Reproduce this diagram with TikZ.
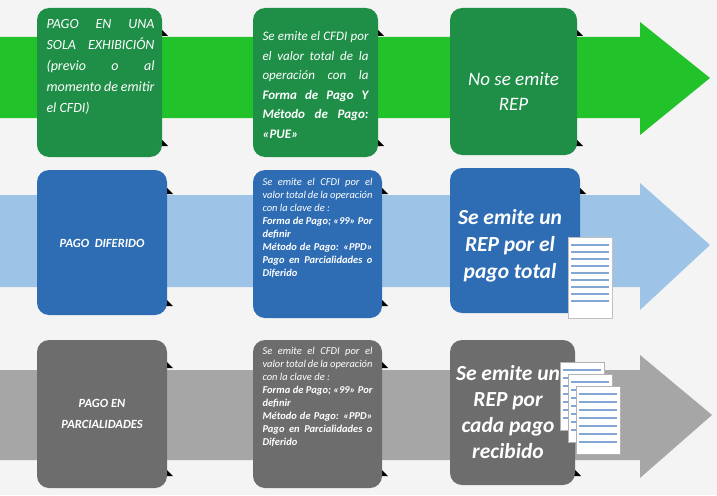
\documentclass[tikz,border=0pt]{standalone}
\usepackage{fontspec}
\setmainfont{Carlito}
\usetikzlibrary{positioning}
\definecolor{bgc}{HTML}{F4F4F4}
\definecolor{gband}{HTML}{22C32A}
\definecolor{gbox}{HTML}{1F8F48}
\definecolor{bband}{HTML}{9DC3E6}
\definecolor{bbox}{HTML}{2E6DB4}
\definecolor{kband}{HTML}{A6A6A6}
\definecolor{kbox}{HTML}{6D6D6D}
\tikzset{
 jt/.style={text=white,align=justify,anchor=north,execute at begin node={\hyphenpenalty=10000\exhyphenpenalty=10000\emergencystretch=3em}},
}
\begin{document}
\begin{tikzpicture}[x=1pt,y=-1pt]
\fill[bgc] (0,0) rectangle (717,495);
% bands
\fill[gband] (0,37) -- (640,37) -- (640,22) -- (710,78) -- (640,135) -- (640,118) -- (0,118) -- cycle;
\fill[bband] (0,195) -- (640,195) -- (640,183) -- (710,245) -- (640,310) -- (640,287) -- (0,287) -- cycle;
\fill[kband] (0,370) -- (640,370) -- (640,355) -- (712,415) -- (640,478) -- (640,460) -- (0,460) -- cycle;
% shadows
\foreach \x/\y in {162/140,378/140,577/140,167/300,382/300,580/300,167/470,382/470,575/470,162/30,378/30,577/30,167/188,382/188,580/188,167/362,382/362,575/362}{
 \fill[black] (\x-8,\y-8) -- (\x+6,\y+6) -- (\x-8,\y+6) -- cycle;}
% row 1
\fill[gbox,rounded corners=12pt] (37,8) rectangle (162,157);
\fill[gbox,rounded corners=12pt] (253,8) rectangle (378,157);
\fill[gbox,rounded corners=12pt] (450,8) rectangle (577,155);
\node[jt,font=\itshape\fontsize{14}{21}\selectfont,text width=108pt,anchor=north west] (a1) at (43,16) {PAGO EN UNA SOLA EXHIBICIÓN (previo o al momento de emitir el CFDI)};
\node[jt,font=\itshape\fontsize{13}{19.5}\selectfont,text width=106pt] (a2) at (315.5,28) {Se emite el CFDI por el valor total de la operación con la \textbf{Forma de Pago Y Método de Pago: «PUE»}};
\node[text=white,font=\itshape\fontsize{19}{25}\selectfont,align=center] (a3) at (513.5,91) {No se emite\\REP};
% row 2
\fill[bbox,rounded corners=12pt] (37,170) rectangle (167,315);
\fill[bbox,rounded corners=12pt] (253,170) rectangle (382,318);
\fill[bbox,rounded corners=12pt] (450,168) rectangle (580,313);
\node[text=white,font=\bfseries\itshape\fontsize{12.5}{14}\selectfont] (b1) at (102,243) {PAGO\ \ DIFERIDO};
\node[jt,font=\itshape\fontsize{10.5}{13}\selectfont,text width=110pt] (b2) at (317.5,175) {Se emite el CFDI por el valor total de la operación con la clave de :\\\textbf{Forma de Pago; «99» Por definir}\\\textbf{Método de Pago: «PPD» Pago en Parcialidades o Diferido}};
\node[text=white,font=\bfseries\itshape\fontsize{21.5}{27}\selectfont,align=center] (b3) at (510,246) {Se emite un\\REP por el\\pago total};
% doc icon row2
\fill[white,draw=gray!50] (568,237) rectangle (612,318);
\foreach \yy in {245,252,259,266,273,280,287,294,301}{\draw[bbox!60,line width=1.2pt] (571,\yy) -- (609,\yy);}
% row 3
\fill[kbox,rounded corners=12pt] (37,340) rectangle (167,488);
\fill[kbox,rounded corners=12pt] (253,340) rectangle (382,488);
\fill[kbox,rounded corners=12pt] (450,340) rectangle (575,485);
\node[text=white,font=\bfseries\itshape\fontsize{12.5}{21}\selectfont,align=center] (c1) at (102,414) {PAGO EN\\PARCIALIDADES};
\node[jt,font=\itshape\fontsize{10.5}{13}\selectfont,text width=110pt] (c2) at (317.5,344) {Se emite el CFDI por el valor total de la operación con la clave de :\\\textbf{Forma de Pago; «99» Por definir}\\\textbf{Método de Pago: «PPD» Pago en Parcialidades o Diferido}};
% doc icons row3
\foreach \dx/\dy in {0/0,8/12,16/24}{
 \fill[white,draw=gray!60] (560+\dx,362+\dy) rectangle (604+\dx,430+\dy);
 \foreach \k in {1,...,7}{\draw[bbox!60,line width=1.1pt] (563+\dx,362+\dy+\k*8) -- (601+\dx,362+\dy+\k*8);}
}
\node[text=white,font=\bfseries\itshape\fontsize{21.5}{26}\selectfont,align=center] (c3) at (508,412) {Se emite un\\REP por\\cada pago\\recibido};
\end{tikzpicture}
\end{document}
